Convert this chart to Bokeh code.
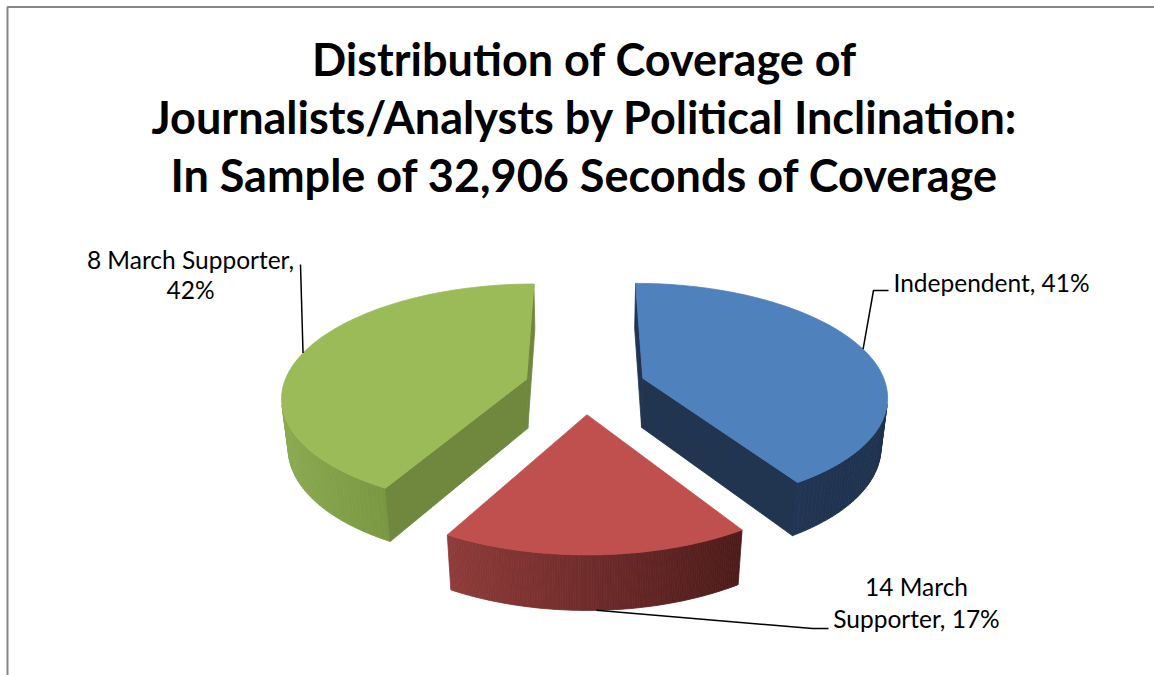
import numpy as np
from bokeh.plotting import figure
from bokeh.models import Range1d, ColumnDataSource
from bokeh.embed import file_html
from bokeh.resources import INLINE
from bokeh.core.properties import value

# ---------------- data ----------------
categories = ["Independent", "14 March Supporter", "8 March Supporter"]
shares = [41, 17, 42]  # percent
title_lines = ["Distribution of Coverage of",
               "Journalists/Analysts by Political Inclination:",
               "In Sample of 32,906 Seconds of Coverage"]

# ---------------- styles ----------------
top_colors = ["#4F81BD", "#C0504D", "#9BBB59"]
side_left = ["#21365400", "#8E3B39", "#8BA94F"]
side_left = ["#213654", "#8E3B39", "#8BA94F"]
side_right = ["#1E314D", "#4D1B1A", "#7A9843"]
cut_colors = ["#213551", "#7A2E2C", "#6F883D"]

FONT = "Lato"
W, H = 1154, 675

# 3-D projection parameters (screen layout)
CX, CY = 584.5, 385.5
FX, FY = 1460.0, 1329.0
CAM = 6.0
ELEV = np.radians(30)
EXPLODE = 0.25
THICK = 0.263


def project(X, Y, Z):
    X = np.asarray(X, float); Y = np.asarray(Y, float); Z = np.asarray(Z, float)
    depth = CAM + Y * np.cos(ELEV) - Z * np.sin(ELEV)
    up = Y * np.sin(ELEV) + Z * np.cos(ELEV)
    return CX + FX * X / depth, CY - FY * up / depth


def area(xs, ys):
    xs = np.asarray(xs); ys = np.asarray(ys)
    return 0.5 * np.sum(xs * np.roll(ys, -1) - np.roll(xs, -1) * ys)


def mix(c1, c2, t):
    a = [int(c1[i:i + 2], 16) for i in (1, 3, 5)]
    b = [int(c2[i:i + 2], 16) for i in (1, 3, 5)]
    return "#%02x%02x%02x" % tuple(int(round(a[k] + (b[k] - a[k]) * t)) for k in range(3))


p = figure(width=W, height=H, x_range=Range1d(0, W), y_range=Range1d(H, 0),
           x_axis_type=None, y_axis_type=None, toolbar_location=None,
           output_backend="svg", min_border=0)
p.outline_line_color = None
p.grid.visible = False
p.background_fill_color = "white"

# chart-area frame
p.quad(left=7, right=W + 20, top=6.5, bottom=H + 20, fill_color=None,
       line_color="#868686", line_width=2)

face_xs, face_ys, face_cols = [], [], []
anchors = []
start = 0.0
for i, share in enumerate(shares):
    a0 = start
    a1 = start + share / 100.0 * 360.0
    start = a1
    bis = np.radians((a0 + a1) / 2)
    ox, oy = EXPLODE * np.sin(bis), EXPLODE * np.cos(bis)
    th = np.radians(np.linspace(a0, a1, 121))
    rx = ox + np.sin(th)
    ry = oy + np.cos(th)
    ztop, zbot = 0.0, -THICK

    # top face (reference orientation)
    tx, ty = project(np.r_[ox, rx], np.r_[oy, ry], np.full(len(rx) + 1, ztop))
    ref = np.sign(area(tx, ty))

    slice_faces = []
    # outer side strips
    strips = []
    for k in range(len(th) - 1):
        X = [rx[k + 1], rx[k], rx[k], rx[k + 1]]
        Y = [ry[k + 1], ry[k], ry[k], ry[k + 1]]
        Z = [ztop, ztop, zbot, zbot]
        sx, sy = project(X, Y, Z)
        if np.sign(area(sx, sy)) == ref and abs(area(sx, sy)) > 1e-6:
            strips.append((sx, sy))
    if strips:
        mids = [np.mean(s[0]) for s in strips]
        lo, hi = min(mids), max(mids)
        for (sx, sy), m in zip(strips, mids):
            t = 0.0 if hi == lo else (m - lo) / (hi - lo)
            slice_faces.append((sx, sy, mix(side_left[i], side_right[i], t)))

    # radial cut faces
    for (edge, order) in ((0, "start"), (-1, "end")):
        ex, ey = rx[edge], ry[edge]
        if order == "start":
            X = [ex, ox, ox, ex]; Y = [ey, oy, oy, ey]
        else:
            X = [ox, ex, ex, ox]; Y = [oy, ey, ey, oy]
        Z = [ztop, ztop, zbot, zbot]
        sx, sy = project(X, Y, Z)
        if np.sign(area(sx, sy)) == ref and abs(area(sx, sy)) > 1e-3:
            slice_faces.append((sx, sy, cut_colors[i]))

    slice_faces.append((tx, ty, top_colors[i]))
    for sx, sy, c in slice_faces:
        face_xs.append(list(sx)); face_ys.append(list(sy)); face_cols.append(c)

    # leader anchor at bisector (top rim, or bottom rim for front slice)
    zb = zbot if np.cos(bis) < -0.5 else ztop
    axp, ayp = project([ox + np.sin(bis)], [oy + np.cos(bis)], [zb])
    anchors.append((float(axp[0]), float(ayp[0])))

src = ColumnDataSource(dict(xs=face_xs, ys=face_ys, c=face_cols))
p.patches("xs", "ys", source=src, fill_color="c", line_color="c", line_width=0.8)

# ---------------- title ----------------
p.text(x=[584] * 3, y=[58, 116, 174], text=title_lines,
       text_font=value(FONT), text_font_style="bold", text_font_size="45px",
       text_align="center", text_baseline="alphabetic", text_color="black")

# ---------------- data labels ----------------
lab_ind = f"{categories[0]}, {shares[0]}%"
lab_14a, lab_14b = "14 March", f"Supporter, {shares[1]}%"
lab_8a, lab_8b = "8 March Supporter,", f"{shares[2]}%"

lab_font = dict(text_font=value(FONT), text_font_size="24.5px", text_color="black",
                text_baseline="alphabetic")
p.text(x=[893], y=[282], text=[lab_ind], text_align="left", **lab_font)
p.text(x=[916, 916], y=[586, 618], text=[lab_14a, lab_14b], text_align="center", **lab_font)
p.text(x=[190, 190], y=[259, 289], text=[lab_8a, lab_8b], text_align="center", **lab_font)

# leader lines
ax_i, ay_i = anchors[0]
ax_r, ay_r = anchors[1]
ax_g, ay_g = anchors[2]
p.line(x=[888, 873, ax_i], y=[290, 290, ay_i], line_color="black", line_width=1.5)
p.line(x=[ax_r, 812, 828], y=[ay_r, 628, 628], line_color="black", line_width=1.5)
p.line(x=[300, ax_g], y=[264, ay_g], line_color="black", line_width=1.5)

open("out.html", "w").write(file_html(p, INLINE))
